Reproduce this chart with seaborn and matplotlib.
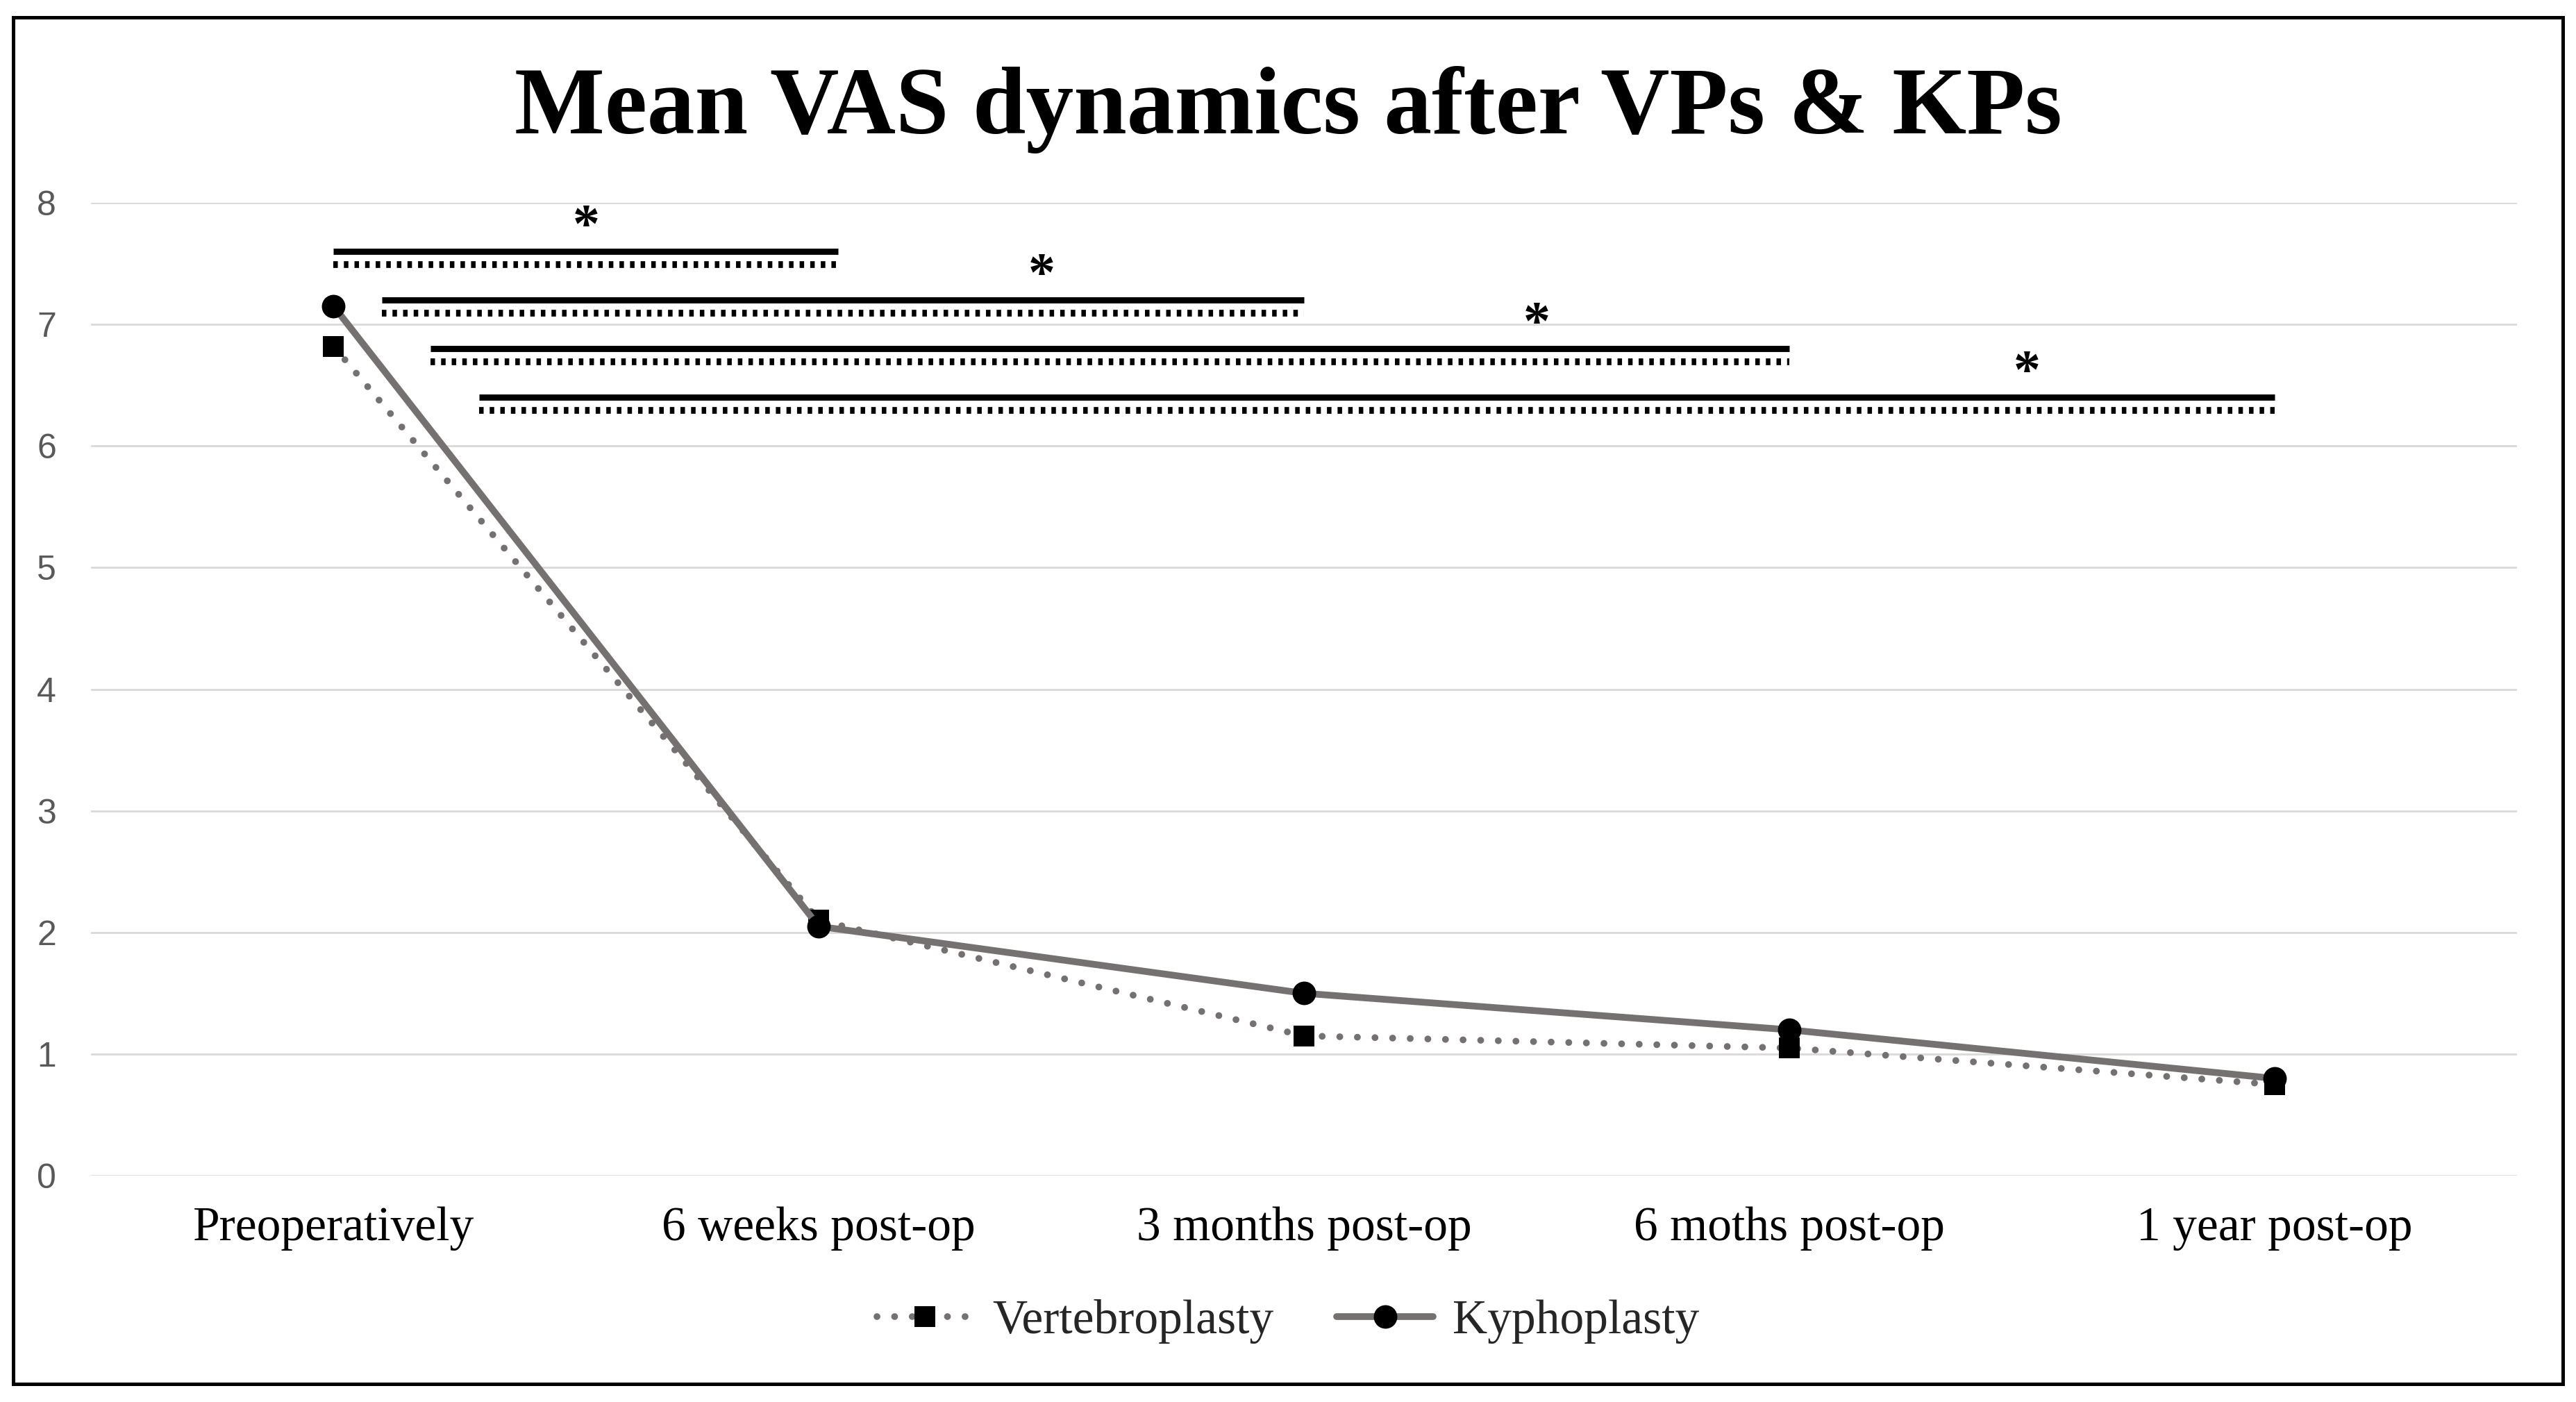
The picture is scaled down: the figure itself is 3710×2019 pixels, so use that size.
import matplotlib
matplotlib.use("Agg")
import matplotlib.pyplot as plt
import matplotlib.patches as patches
import seaborn as sns

# chart values
timepoints = ["Preoperatively", "6 weeks post-op", "3 months post-op", "6 moths post-op", "1 year post-op"]
vp_vas = [6.82, 2.10, 1.15, 1.05, 0.75]
kp_vas = [7.15, 2.05, 1.50, 1.20, 0.80]
y_ticks = [0, 1, 2, 3, 4, 5, 6, 7, 8]

# significance brackets (category index start/end, VAS level)
sig_start = [0.0, 0.1, 0.2, 0.3]
sig_end = [1.04, 2.0, 3.0, 4.0]
sig_level = [7.6, 7.2, 6.8, 6.4]
star_x = [0.52, 1.46, 2.48, 3.49]

sns.set_style("white")
plt.rcParams["font.family"] = ["Liberation Serif", "DejaVu Serif"]

line_grey = "#767171"

fig = plt.figure(figsize=(18.55, 10.095), dpi=200)
ax = fig.add_axes([0.0353, 0.1614, 0.9771 - 0.0353, 0.8554 - 0.1614])

sns.lineplot(x=timepoints, y=vp_vas, ax=ax, sort=False, label="Vertebroplasty",
             color=line_grey, lw=3.5, linestyle=(0, (0.01, 2.6)), dash_capstyle="round",
             marker="s", markersize=10.8, markerfacecolor="black", markeredgecolor="black",
             markeredgewidth=0, zorder=3)
sns.lineplot(x=timepoints, y=kp_vas, ax=ax, sort=False, label="Kyphoplasty",
             color=line_grey, lw=3.5, marker="o", markersize=12.2,
             markerfacecolor="black", markeredgecolor="black", markeredgewidth=0, zorder=4)

# significance bars: solid (KP) over dotted (VP)
for s, e, lvl, sx in zip(sig_start, sig_end, sig_level, star_x):
    ax.plot([s, e], [lvl, lvl], color="black", lw=3.2, solid_capstyle="butt", zorder=2)
    ax.plot([s, e], [lvl - 0.11, lvl - 0.11], color="black", lw=3.5,
            linestyle=(0, (0.67, 0.9)), dash_capstyle="butt", zorder=2)
    ax.text(sx, lvl + 0.19, "*", ha="center", va="center", fontsize=28,
            fontweight="bold", color="black")

ax.set_xlim(-0.5, 4.5)
ax.set_ylim(0, 8)
ax.set_yticks(y_ticks)
ax.set_yticklabels([str(t) for t in y_ticks], family=["Liberation Sans"], fontsize=18, color="#595959")
ax.tick_params(axis="y", length=0, pad=18)
ax.tick_params(axis="x", length=0, pad=16, labelsize=25, labelcolor="black")
ax.set_xlabel("")
ax.set_ylabel("")
ax.grid(axis="y", color="#d9d9d9", lw=1.0)
ax.grid(axis="x", visible=False)
for sp in ax.spines.values():
    sp.set_visible(False)

ax.legend(loc="center", bbox_to_anchor=(0.5, 0.0575), bbox_transform=fig.transFigure,
          ncol=2, frameon=False, fontsize=25, handlelength=2.0, handletextpad=0.4,
          columnspacing=1.3)

fig.text(0.5, 1 - 192 / 2019, "Mean VAS dynamics after VPs & KPs", ha="center", va="baseline",
         fontsize=49.5, fontweight="bold", color="black")

# outer frame
fig.patches.append(patches.Rectangle((19 / 3710, 1 - 1993 / 2019), (3691 - 19) / 3710,
                                     (1993 - 25) / 2019, transform=fig.transFigure,
                                     fill=False, lw=1.8, edgecolor="black"))

fig.savefig("out.png", dpi=200, facecolor="white")
